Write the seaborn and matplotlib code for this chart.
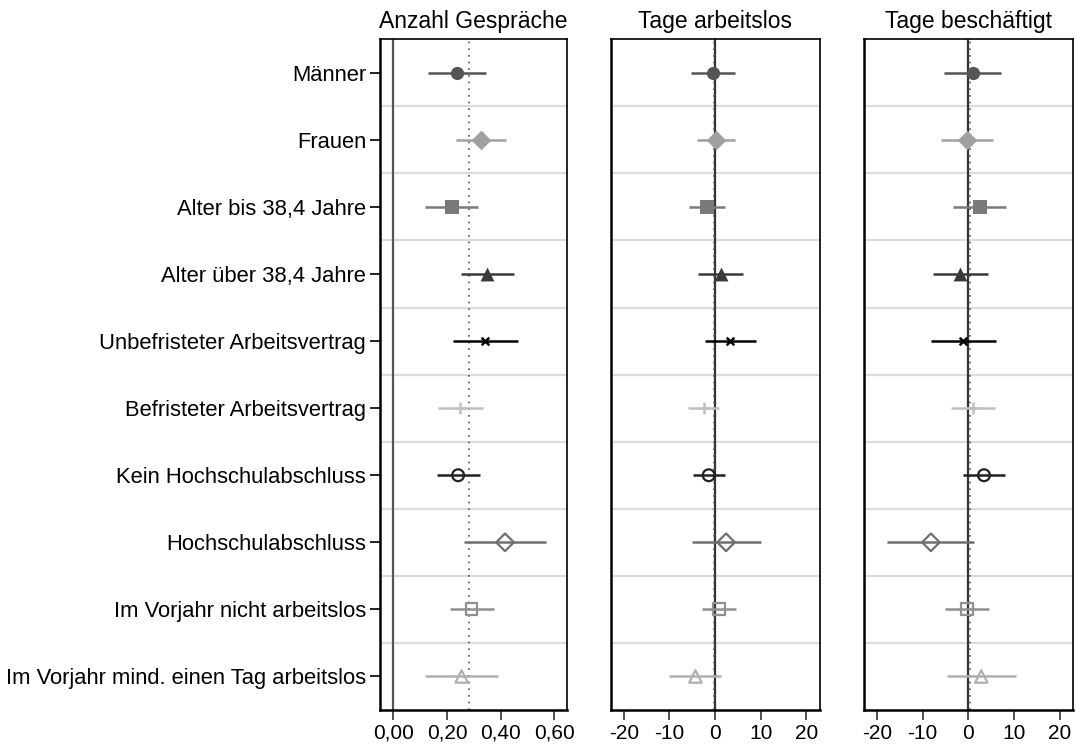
import matplotlib
matplotlib.use("Agg")
import matplotlib.pyplot as plt
import seaborn as sns
import pandas as pd
import numpy as np

groups = ["Männer", "Frauen", "Alter bis 38,4 Jahre", "Alter über 38,4 Jahre",
          "Unbefristeter Arbeitsvertrag", "Befristeter Arbeitsvertrag",
          "Kein Hochschulabschluss", "Hochschulabschluss",
          "Im Vorjahr nicht arbeitslos", "Im Vorjahr mind. einen Tag arbeitslos"]

titles = ["Anzahl Gespräche", "Tage arbeitslos", "Tage beschäftigt"]

gespr_est = [0.236, 0.326, 0.219, 0.350, 0.342, 0.249, 0.241, 0.416, 0.291, 0.254]
gespr_lo  = [0.130, 0.232, 0.118, 0.250, 0.221, 0.165, 0.162, 0.262, 0.210, 0.117]
gespr_hi  = [0.344, 0.420, 0.316, 0.451, 0.464, 0.333, 0.321, 0.570, 0.373, 0.391]

alos_est = [-0.5, 0.15, -1.8, 1.2, 3.2, -2.4, -1.4, 2.4, 0.9, -4.3]
alos_lo  = [-5.3, -4.0, -5.8, -3.7, -2.3, -5.9, -4.8, -5.0, -2.8, -10.1]
alos_hi  = [4.3, 4.3, 2.2, 6.1, 8.9, 0.95, 2.1, 10.0, 4.5, 1.4]

besch_est = [0.95, -0.3, 2.6, -1.75, -1.1, 0.95, 3.4, -8.2, -0.3, 2.8]
besch_lo  = [-5.3, -5.9, -3.3, -7.7, -8.2, -3.9, -1.2, -17.7, -5.1, -4.7]
besch_hi  = [7.1, 5.3, 8.3, 4.2, 6.0, 5.9, 8.0, 1.3, 4.5, 10.4]

ref_lines = [0.283, -0.3, 0.3]

colors = ["#555555", "#a0a0a0", "#7a7a7a", "#3a3a3a", "#000000",
          "#c0c0c0", "#222222", "#707070", "#909090", "#b0b0b0"]
markers = ["o", "D", "s", "^", "x", "+", "o", "D", "s", "^"]
filled = [True, True, True, True, True, True, False, False, False, False]
msizes = [9.5, 10, 9.5, 10, 5.5, 8, 8.5, 9, 8.5, 9]

sns.set_theme(style="white")
plt.rcParams["font.family"] = ["Liberation Sans", "DejaVu Sans"]
plt.rcParams["text.color"] = "black"
plt.rcParams["xtick.color"] = "black"
plt.rcParams["ytick.color"] = "black"
plt.rcParams["axes.labelcolor"] = "black"

fig = plt.figure(figsize=(10.76, 7.44), dpi=100)
bottom = 0.0457
height = 0.9015
axes = [fig.add_axes([0.3532, bottom, 0.1735, height]),
        fig.add_axes([0.5678, bottom, 0.1940, height]),
        fig.add_axes([0.8030, bottom, 0.1945, height])]

data = [(gespr_est, gespr_lo, gespr_hi), (alos_est, alos_lo, alos_hi),
        (besch_est, besch_lo, besch_hi)]
xlims = [(-0.05, 0.646), (-22.8, 22.9), (-22.8, 22.9)]
xticks = [[0, 0.2, 0.4, 0.6], [-20, -10, 0, 10, 20], [-20, -10, 0, 10, 20]]
xticklabels = [["0,00", "0,20", "0,40", "0,60"],
               ["-20", "-10", "0", "10", "20"], ["-20", "-10", "0", "10", "20"]]

ypos = np.arange(1, len(groups) + 1)

for k, ax in enumerate(axes):
    est, lo, hi = data[k]
    df = pd.DataFrame({"group": groups, "y": ypos, "est": est, "lo": lo, "hi": hi})
    for yy in np.arange(1.5, len(groups), 1.0):
        ax.axhline(yy, color="#dcdcdc", lw=1.6, zorder=0)
    if k == 0:
        ax.axvline(0, color="#555555", lw=1.6, zorder=1)
    else:
        ax.axvline(0, color="#333333", lw=1.6, zorder=1)
    ax.axvline(ref_lines[k], color="#555555", lw=1.2, ls=(0, (1, 3)), zorder=1)
    for i, row in df.iterrows():
        c = colors[i]
        ax.hlines(row["y"], row["lo"], row["hi"], color=c, lw=1.8, zorder=2)
        sub = df.iloc[[i]]
        if filled[i]:
            sns.scatterplot(data=sub, x="est", y="y", ax=ax, marker=markers[i],
                            color=c, s=msizes[i] ** 2,
                            linewidth=(1.8 if markers[i] in ("x", "+") else 0),
                            edgecolor=c, zorder=3, legend=False)
        else:
            sns.scatterplot(data=sub, x="est", y="y", ax=ax, marker=markers[i],
                            s=msizes[i] ** 2, facecolors="none",
                            edgecolor=c, linewidth=1.6, zorder=3, legend=False)
    ax.set_xlim(*xlims[k])
    ax.set_ylim(len(groups) + 0.5, 0.5)
    ax.set_xticks(xticks[k])
    ax.set_xticklabels(xticklabels[k], fontsize=15)
    ax.set_xlabel("")
    ax.set_ylabel("")
    ax.set_title(titles[k], fontsize=16.5, pad=8, color="black")
    ax.tick_params(axis="x", direction="out", length=7, width=1.2, color="#333333",
                   bottom=True, pad=3)
    if k == 0:
        ax.set_yticks(ypos)
        ax.set_yticklabels(groups, fontsize=15.8)
        ax.tick_params(axis="y", direction="out", length=7, width=1.2,
                       color="#000000", left=True, pad=3)
    else:
        ax.set_yticks([])
    for s in ax.spines.values():
        s.set_color("#000000")
        s.set_linewidth(1.2)
    ax.spines["left"].set_linewidth(1.8)
    ax.spines["bottom"].set_linewidth(1.8)

fig.savefig("out.png", dpi=100)
